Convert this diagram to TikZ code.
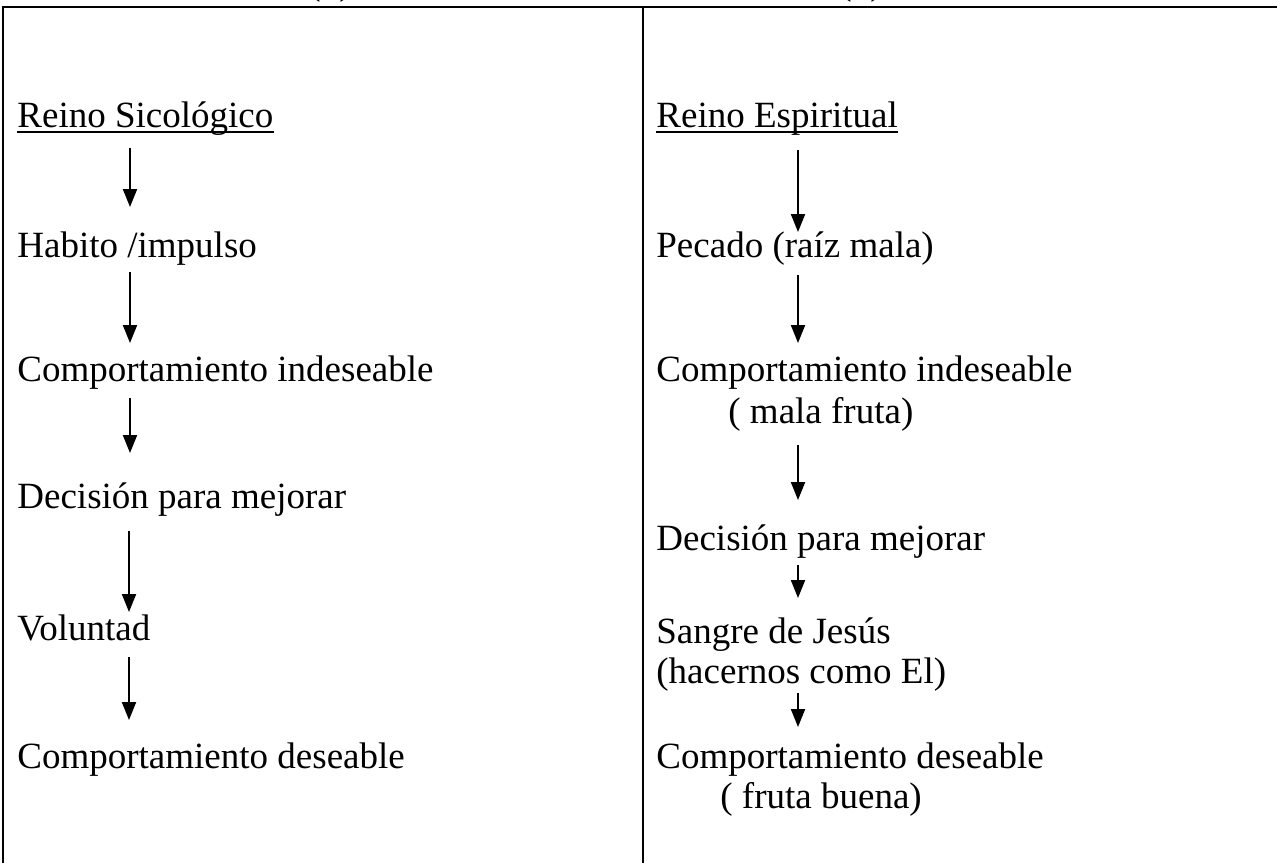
\documentclass[tikz,border=0pt]{standalone}
\usepackage{fontspec}
\setmainfont{Liberation Serif}
\usetikzlibrary{arrows.meta}

\begin{document}
\begin{tikzpicture}[x=0.5pt, y=-0.5pt,
        txt/.style = {
            anchor=base west,
            inner sep=0pt,
            font=\fontsize{18.5pt}{20pt}\selectfont
        },
        flecha/.style = {-{Triangle[length=9pt,width=7pt]}, line width=1pt},
        marco/.style = {line width=1.4pt}]

        \useasboundingbox (0,0) rectangle (1277,863);
        \clip (0,0) rectangle (1277,863);

        % marco de la tabla
        \draw[marco] (3,863) -- (3,7) -- (1277,7);
        \draw[marco] (643,7) -- (643,863);
        \node[txt, anchor=base] (n1) at (330,-6) {(1)};
        \node[txt, anchor=base] (n2) at (861,-6) {(2)};

        % columna izquierda
        \node[txt] (l0) at (17,127) {Reino Sicológico};
        \node[txt] (l1) at (17,257) {Habito /impulso};
        \node[txt] (l2) at (17,381) {Comportamiento indeseable};
        \node[txt] (l3) at (17,508) {Decisión para mejorar};
        \node[txt] (l4) at (17,640) {Voluntad};
        \node[txt] (l5) at (17,768) {Comportamiento deseable};

        % columna derecha
        \node[txt] (r0) at (656,127) {Reino Espiritual};
        \node[txt] (r1) at (656,257) {Pecado (raíz mala)};
        \node[txt] (r2) at (656,381) {Comportamiento indeseable};
        \node[txt] (r2b) at (728,423) {( mala fruta)};
        \node[txt] (r3) at (656,550) {Decisión para mejorar};
        \node[txt] (r4) at (656,643) {Sangre de Jesús};
        \node[txt] (r4b) at (656,683) {(hacernos como El)};
        \node[txt] (r5) at (656,768) {Comportamiento deseable};
        \node[txt] (r5b) at (720,808) {( fruta buena)};

        \draw[line width=1pt] ([yshift=-2.5pt]l0.base west) -- ([yshift=-2.5pt]l0.base east);
        \draw[line width=1pt] ([yshift=-2.5pt]r0.base west) -- ([yshift=-2.5pt]r0.base east);

        % extremos de las flechas
        \coordinate (la1) at (130,148); \coordinate (lb1) at (130,207);
        \coordinate (la2) at (130,272); \coordinate (lb2) at (130,343);
        \coordinate (la3) at (130,398); \coordinate (lb3) at (130,453);
        \coordinate (la4) at (129,531); \coordinate (lb4) at (129,612);
        \coordinate (la5) at (129,657); \coordinate (lb5) at (129,720);
        \coordinate (ra1) at (798,150); \coordinate (rb1) at (798,232);
        \coordinate (ra2) at (798,275); \coordinate (rb2) at (798,343);
        \coordinate (ra3) at (798,445); \coordinate (rb3) at (798,500);
        \coordinate (ra4) at (798,565); \coordinate (rb4) at (798,598);
        \coordinate (ra5) at (798,693); \coordinate (rb5) at (798,727);

        \draw[flecha] (la1) -- (lb1);
        \draw[flecha] (la2) -- (lb2);
        \draw[flecha] (la3) -- (lb3);
        \draw[flecha] (la4) -- (lb4);
        \draw[flecha] (la5) -- (lb5);
        \draw[flecha] (ra1) -- (rb1);
        \draw[flecha] (ra2) -- (rb2);
        \draw[flecha] (ra3) -- (rb3);
        \draw[flecha] (ra4) -- (rb4);
        \draw[flecha] (ra5) -- (rb5);
    \end{tikzpicture}
\end{document}
